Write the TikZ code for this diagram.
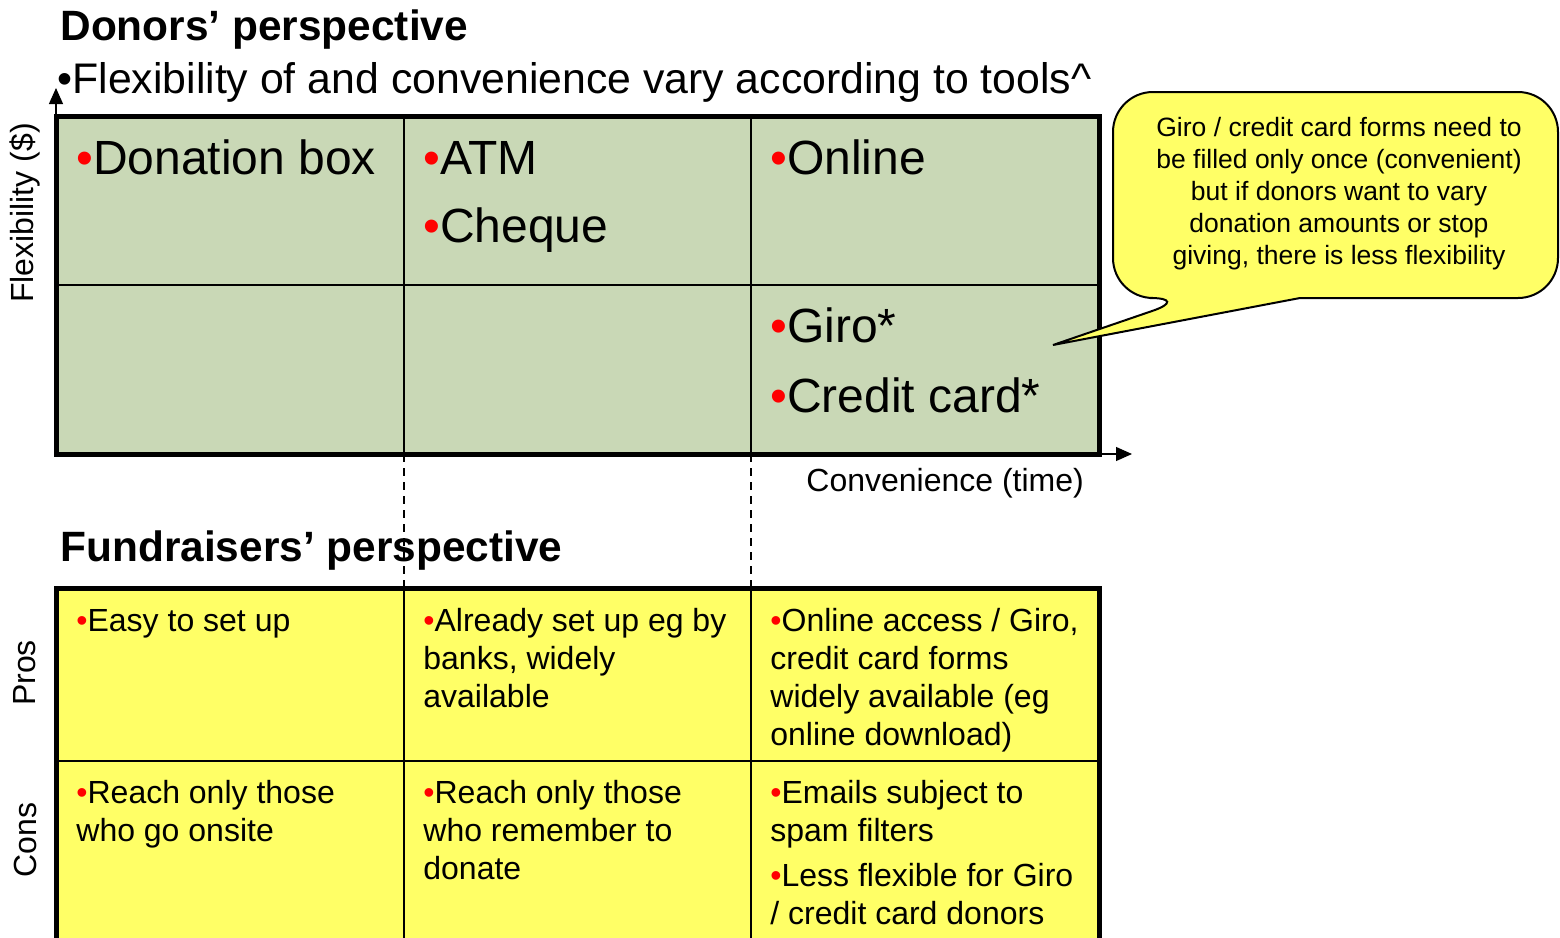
\documentclass[tikz,border=0pt]{standalone}
\usepackage{fontspec}
\setmainfont{Liberation Sans}
\usetikzlibrary{arrows.meta}
\definecolor{sage}{RGB}{201,216,182}
\definecolor{lyellow}{RGB}{255,255,102}
\newcommand{\redbul}{\textcolor{red}{\char"2022}}
\begin{document}
\begin{tikzpicture}[x=0.5pt,y=-0.5pt,
  title/.style={anchor=base west, inner sep=0pt, font=\fontsize{21.2}{25}\selectfont\bfseries},
  sub/.style={anchor=base west, inner sep=0pt, font=\fontsize{21.4}{25}\selectfont},
  big/.style={anchor=base west, inner sep=0pt, align=left, font=\fontsize{24}{34}\selectfont},
  cell/.style={anchor=base west, inner sep=0pt, align=left, font=\fontsize{16}{19}\selectfont},
  axislabel/.style={inner sep=0pt, font=\fontsize{16}{19}\selectfont},
  thin/.style={line width=1pt},
  thick border/.style={line width=2.5pt},
  guide/.style={line width=0.6pt, dashed, dash pattern=on 4pt off 3pt},
  axis/.style={line width=0.6pt, -{Triangle[length=8pt,width=7pt]}},
  callout/.style={fill=lyellow, draw=black, line width=1pt, rounded corners=20pt}
]
\useasboundingbox (0,0) rectangle (1560,938);

% Titles
\node[title] (t1) at (60,40) {Donors’ perspective};
\node[sub] (t2) at (57,93) {\char"2022 Flexibility of and convenience vary according to tools\^{}};
\node[title] (t3) at (60,561) {Fundraisers’ perspective};

% Top table
\coordinate (tl) at (56,116);
\coordinate (br) at (1099,454);
\fill[sage] (tl) rectangle (br);
\draw[thin] (404,116) -- (404,454);
\draw[thin] (751,116) -- (751,454);
\draw[thin] (56,285) -- (1099,285);

% Axes
\coordinate (ytip) at (56,88);
\coordinate (xtip) at (1132,454);
\coordinate (origin) at (56,454);
\draw[axis] (origin) -- (ytip);
\draw[axis] (br) -- (xtip);
\draw[thick border] (tl) rectangle (br);

% Bottom table
\fill[lyellow] (56,588) rectangle (1099,950);
\draw[thin] (404,588) -- (404,950);
\draw[thin] (751,588) -- (751,950);
\draw[thin] (56,761) -- (1099,761);
\draw[thick border] (56,950) -- (56,588) -- (1099,588) -- (1099,950);

% Dashed guides
\coordinate (g1a) at (404,454); \coordinate (g1b) at (404,588);
\coordinate (g2a) at (751,454); \coordinate (g2b) at (751,588);
\draw[guide] (g1a) -- (g1b);
\draw[guide] (g2a) -- (g2b);

% Top cells (base anchor = last line's baseline)
\node[big] (c11) at (76,174) {\redbul Donation box};
\node[big] (c12) at (423,242) {\redbul ATM\\\redbul Cheque};
\node[big] (c13) at (770,174) {\redbul Online};
\node[big, font=\fontsize{24}{35}\selectfont] (c23) at (770,412) {\redbul Giro*\\\redbul Credit card*};

% Axis labels
\node[axislabel, anchor=base west] (xl) at (806,491) {Convenience (time)};
\node[axislabel, rotate=90] (yl) at (25,213) {Flexibility (\$)};
\node[axislabel, rotate=90] (pl) at (25,673) {Pros};
\node[axislabel, rotate=90] (cl) at (25,840) {Cons};

% Bottom cells
\node[cell] (p1) at (76,631) {\redbul Easy to set up};
\node[cell] (p2) at (423,707) {\redbul Already set up eg by\\banks, widely\\available};
\node[cell] (p3) at (770,745) {\redbul Online access / Giro,\\credit card forms\\widely available (eg\\online download)};
\node[cell] (n1) at (76,841) {\redbul Reach only those\\who go onsite};
\node[cell] (n2) at (423,879) {\redbul Reach only those\\who remember to\\donate};
\node[cell] (n3) at (770,924) {\redbul Emails subject to\\spam filters\\[3.5pt]\redbul Less flexible for Giro\\/ credit card donors};

% Callout
\coordinate (ptip) at (1053,345);
\draw[callout] (1300,298) -- (1558,298) -- (1558,92) -- (1113,92) -- (1113,298) -- (1190,298) [sharp corners] -- (ptip) -- cycle;
\node[inner sep=0pt, align=center, anchor=base, font=\fontsize{13.25}{16}\selectfont] (note) at (1339,264)
  {Giro / credit card forms need to\\be filled only once (convenient)\\but if donors want to vary\\donation amounts or stop\\giving, there is less flexibility};
\end{tikzpicture}
\end{document}
